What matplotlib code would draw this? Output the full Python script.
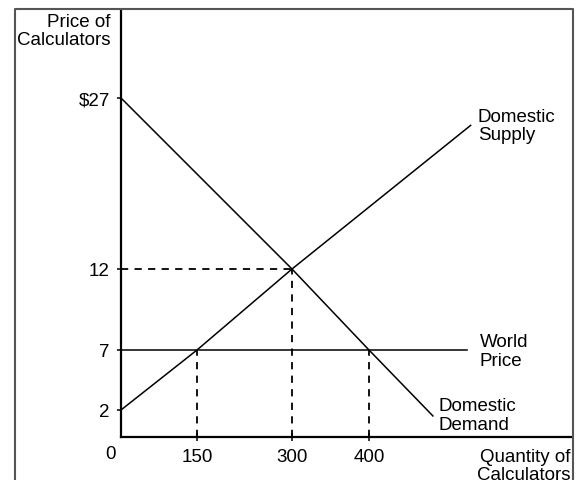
import matplotlib
matplotlib.use('Agg')
import matplotlib.pyplot as plt
import numpy as np
from matplotlib.lines import Line2D

plt.rcParams['font.family'] = ['Liberation Sans', 'DejaVu Sans']

# data (schematic chart)
prices = [2, 7, 12, 27]
price_labels = ['2', '7', '12', '$27']
quantities = [150, 300, 400]
qty_labels = ['150', '300', '400']
world_price = 7
world_end_q = 527
supply_q = [0, 150, 300, 532]
supply_p = [2, 7, 12, 24.6]
demand_q = [0, 300, 400, 483]
demand_p = [27, 12, 7, 1.56]
q_demand, q_supply, q_equil = 400, 150, 300
p_equil = 12

# non-linear (schematic) axis spacing: data value -> pixels from origin
x_data = [0, 150, 300, 400, 700]
x_pix = [0, 76, 171, 248, 479]
y_data = [0, 2, 7, 12, 27, 40]
y_pix = [0, 27, 87, 168, 339, 487.2]

W, H = 583, 481
fig = plt.figure(figsize=(W / 100, H / 100), dpi=100)
fig.patch.set_facecolor('white')

# axes box in pixels: origin at (121, 438), top at y=12, right at x=572
ax = fig.add_axes([121 / W, (H - 438) / H, (572 - 121) / W, (438 - 12) / H])
ax.set_xscale('function', functions=(lambda v: np.interp(v, x_data, x_pix),
                                     lambda v: np.interp(v, x_pix, x_data)))
ax.set_yscale('function', functions=(lambda v: np.interp(v, y_data, y_pix),
                                     lambda v: np.interp(v, y_pix, y_data)))
ax.set_xlim(0, np.interp(451, x_pix, x_data))
ax.set_ylim(0, np.interp(426, y_pix, y_data))

for s in ['top', 'right']:
    ax.spines[s].set_visible(False)
for s in ['left', 'bottom']:
    ax.spines[s].set_linewidth(1.6)
    ax.spines[s].set_color('black')

lw = 1.1
ax.plot(supply_q, supply_p, color='black', lw=lw)
ax.plot(demand_q, demand_p, color='black', lw=lw)
ax.plot([0, world_end_q], [world_price, world_price], color='black', lw=lw)

dash = (0, (4, 3.5))
ax.plot([0, q_equil], [p_equil, p_equil], color='black', lw=1.3, linestyle=dash)
ax.plot([q_equil, q_equil], [0, p_equil], color='black', lw=1.3, linestyle=dash)
ax.plot([q_supply, q_supply], [0, world_price], color='black', lw=1.3, linestyle=dash)
ax.plot([q_demand, q_demand], [0, world_price], color='black', lw=1.3, linestyle=dash)

fs = 13.5
ax.set_yticks(prices)
ax.set_yticklabels(price_labels)
ax.set_xticks(quantities)
ax.set_xticklabels(qty_labels)
ax.minorticks_off()
ax.tick_params(axis='y', direction='out', length=3, width=1.1, pad=5, labelsize=fs)
ax.tick_params(axis='x', direction='inout', length=6, width=1.1, pad=5, labelsize=fs)

ax.annotate('0', (0, 0), xytext=(-5, -8), textcoords='offset pixels',
            ha='right', va='top', fontsize=fs)

# curve labels
ax.annotate('Domestic\nSupply', (supply_q[-1], supply_p[-1]), xytext=(7, 0),
            textcoords='offset pixels', ha='left', va='center', fontsize=fs,
            linespacing=1.1)
ax.annotate('World\nPrice', (world_end_q, world_price), xytext=(13, -1),
            textcoords='offset pixels', ha='left', va='center', fontsize=fs,
            linespacing=1.1)
ax.annotate('Domestic\nDemand', (demand_q[-1], demand_p[-1]), xytext=(6, 1),
            textcoords='offset pixels', ha='left', va='center', fontsize=fs,
            linespacing=1.1)

# axis titles
fig.text(110 / W, 1 - 14 / H, 'Price of\nCalculators', ha='right', va='top',
         fontsize=fs, linespacing=1.1)
fig.text(571 / W, 1 - 449 / H, 'Quantity of\nCalculators', ha='right', va='top',
         fontsize=fs, linespacing=1.1)

# outer frame (bottom edge is cut off)
fx0, fx1, fy = 14.5 / W, 572.5 / W, 1 - 10 / H
fig.add_artist(Line2D([fx0, fx0, fx1, fx1], [-0.1, fy, fy, -0.1],
                      transform=fig.transFigure, color='#555555', lw=1.5))

fig.savefig('out.png', dpi=100)
